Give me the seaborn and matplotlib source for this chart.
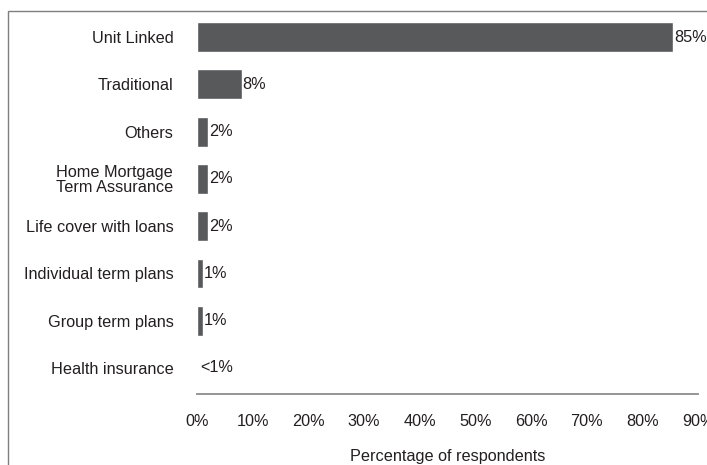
import matplotlib
matplotlib.use("Agg")
import matplotlib.pyplot as plt
import seaborn as sns
import pandas as pd
from matplotlib.patches import Rectangle

categories = ["Unit Linked", "Traditional", "Others", "Home Mortgage\nTerm Assurance",
              "Life cover with loans", "Individual term plans", "Group term plans",
              "Health insurance"]
values = [85.5, 8, 2, 2, 2, 1, 1, 0]
value_labels = ["85%", "8%", "2%", "2%", "2%", "1%", "1%", "<1%"]
xticks = [0, 10, 20, 30, 40, 50, 60, 70, 80, 90]
xtick_labels = [f"{t}%" for t in xticks]

sns.set_theme(style="white")
plt.rcParams['font.family'] = ['Liberation Sans', 'DejaVu Sans']
text_color = "#231f20"
fs = 11.7

df = pd.DataFrame({"cat": categories, "val": values})

fig = plt.figure(figsize=(7.07, 4.65), dpi=100)
W, H = 707, 465
left, right, top, bottom = 197, 698, 12, 394
ax = fig.add_axes([left / W, 1 - bottom / H, (right - left) / W, (bottom - top) / H])

sns.barplot(data=df, x="val", y="cat", color="#58595b", width=0.63,
            saturation=1, ax=ax, orient="h")

ax.set_xlim(0, 90)
ax.set_ylim(7.55, -0.53)
ax.set_xticks(xticks)
ax.set_xticklabels(xtick_labels, fontsize=fs, color=text_color)
ax.tick_params(axis="x", length=0, pad=14.5)
ax.tick_params(axis="y", length=0, pad=17)
for lab in ax.get_yticklabels():
    lab.set_fontsize(fs)
    lab.set_color(text_color)
    lab.set_multialignment("center")
    lab.set_linespacing(1.0)
ax.set_ylabel("")
ax.set_xlabel("Percentage of respondents", fontsize=fs, color=text_color, labelpad=14)

for s in ["top", "right", "left"]:
    ax.spines[s].set_visible(False)
ax.spines["bottom"].set_color("#8c8c8c")
ax.spines["bottom"].set_linewidth(1.3)

for i, (v, lab) in enumerate(zip(values, value_labels)):
    x = v + 0.15 if v > 0 else 0.6
    ax.text(x, i, lab, va="center", ha="left", fontsize=fs, color=text_color)

# outer frame (partially cut off)
frame = Rectangle((8 / W, -0.1), 1.2, 1 - 11 / H + 0.1, transform=fig.transFigure,
                  fill=False, edgecolor="#7f7f7f", linewidth=1.0, clip_on=False)
fig.patches.append(frame)

fig.savefig("out.png", dpi=100)
